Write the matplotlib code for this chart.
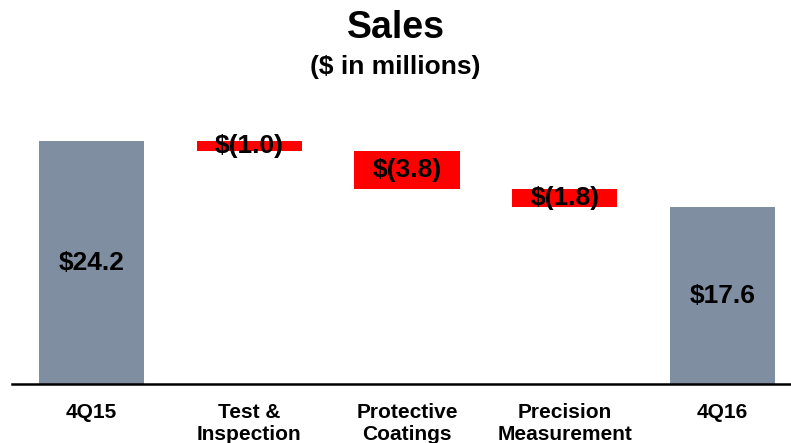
import matplotlib.pyplot as plt

plt.rcParams['font.family'] = ['Liberation Sans', 'DejaVu Sans']

categories = ['4Q15', 'Test &\nInspection', 'Protective\nCoatings', 'Precision\nMeasurement', '4Q16']
start_total = 24.2
changes = [-1.0, -3.8, -1.8]
end_total = 17.6
labels = ['$24.2', '$(1.0)', '$(3.8)', '$(1.8)', '$17.6']

gray = '#7F8FA1'
red = '#FF0000'

fig = plt.figure(figsize=(7.91, 4.43), dpi=100)
ax = fig.add_axes([12 / 791, 1 - 384 / 443, 779 / 791, 284 / 443])

bottoms = []
heights = []
colors = []
bottoms.append(0)
heights.append(start_total)
colors.append(gray)
level = start_total
for c in changes:
    bottoms.append(level + c)
    heights.append(-c)
    colors.append(red)
    level += c
bottoms.append(0)
heights.append(end_total)
colors.append(gray)

x = list(range(len(categories)))
ax.bar(x, heights, bottom=bottoms, width=0.666, color=colors, linewidth=0)

for xi, b, h, lab in zip(x, bottoms, heights, labels):
    ax.text(xi, b + h / 2, lab, ha='center', va='center',
            fontsize=19, fontweight='bold', color='black')

ax.set_xlim(-0.504, 4.434)
ax.set_ylim(0, 28.3)
ax.set_xticks(x)
ax.set_xticklabels(categories, fontsize=15, fontweight='bold', linespacing=1.15)
ax.tick_params(axis='x', length=0, pad=14)
ax.set_yticks([])
for s in ['top', 'right', 'left']:
    ax.spines[s].set_visible(False)
ax.spines['bottom'].set_linewidth(1.8)
ax.spines['bottom'].set_color('black')

fig.text(0.5, 1 - 28 / 443, 'Sales', ha='center', va='center', fontsize=27, fontweight='bold')
fig.text(0.5, 1 - 67 / 443, '($ in millions)', ha='center', va='center', fontsize=19, fontweight='bold')

fig.savefig('out.png', dpi=100)
